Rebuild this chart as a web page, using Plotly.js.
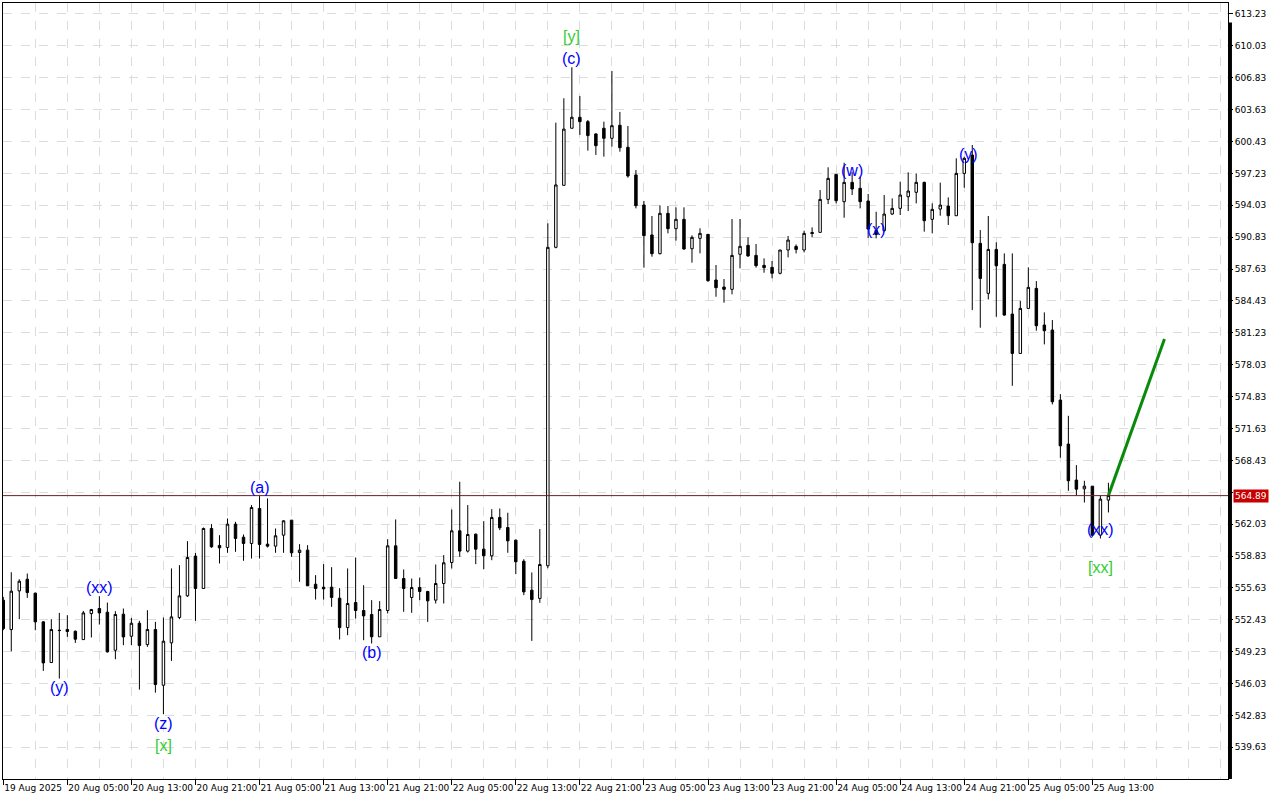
<!DOCTYPE html>
<html>
<head>
<meta charset="utf-8">
<script src="https://cdn.plot.ly/plotly-3.0.1.min.js"></script>
<style>
html,body{margin:0;padding:0;background:#fff;}
#chart{width:1280px;height:800px;}
</style>
</head>
<body>
<div id="chart"></div>
<script>
// ---- data (hourly bars starting 19 Aug 2025 21:00) ----
const firstBar = '2025-08-19 21:00';

const open = [554.39,551.45,555.33,556.50,555.10,552.22,548.14,551.38,551.45,551.28,
550.44,553.05,553.56,553.19,549.37,552.99,550.78,552.08,549.94,551.45,
545.86,550.11,552.66,554.83,558.82,555.57,561.59,559.89,559.69,562.03,
560.72,560.09,563.60,560.02,559.82,560.92,562.43,559.18,559.42,556.00,
555.70,555.70,554.60,551.65,554.16,553.36,552.96,550.72,553.36,559.85,
556.57,554.67,555.67,555.27,554.40,556.07,558.18,561.36,559.32,561.02,
559.52,558.85,562.70,561.69,560.42,558.31,555.40,554.57,557.85,589.81,
596.03,601.76,602.86,602.42,601.19,601.76,600.75,602.06,599.85,597.07,
594.06,591.05,589.17,593.22,591.68,592.62,589.67,590.71,591.11,586.53,
585.82,585.59,589.11,590.01,589.00,588.00,587.80,587.20,589.54,589.90,
589.54,591.30,591.31,594.62,597.13,594.39,596.33,595.73,594.46,591.50,
591.48,593.15,593.72,594.89,595.33,596.33,592.62,593.65,593.95,592.98,
597.23,599.07,590.21,585.19,589.60,588.10,583.11,579.16,583.68,585.69,
582.01,581.51,574.48,570.06,566.45,565.57,565.84,560.92,564.44];

const high = [554.73,557.20,556.50,557.07,555.16,552.29,552.49,553.12,552.89,551.35,
553.32,553.52,554.80,554.16,553.29,553.56,552.62,552.32,553.39,552.22,
552.65,557.58,557.91,560.32,559.15,561.69,562.03,560.92,562.60,562.26,
560.99,563.94,564.84,564.61,561.59,562.43,562.43,560.02,559.92,556.91,
558.01,557.71,555.60,557.58,558.68,555.90,554.40,554.30,560.52,562.50,
557.48,556.57,556.67,555.33,557.98,558.92,563.50,566.28,563.94,561.09,
562.33,563.53,563.60,563.17,560.49,558.51,557.18,561.53,592.22,602.32,
604.77,607.88,605.00,602.59,601.25,602.42,607.51,603.40,601.99,597.57,
594.46,592.95,594.02,593.96,593.82,593.82,591.01,591.72,591.15,588.03,
586.63,592.65,592.65,590.81,590.14,588.70,588.44,589.54,590.95,590.10,
591.48,591.81,595.56,597.84,597.13,598.30,597.40,596.90,595.16,593.38,
595.06,594.72,596.40,597.33,597.23,596.40,594.22,596.30,594.82,598.74,
598.91,600.08,591.54,592.95,590.31,589.20,589.20,584.45,587.80,586.42,
583.28,582.51,575.08,572.90,567.95,566.38,565.84,564.87,566.18];

const low = [551.38,549.27,552.49,554.63,551.38,547.30,548.14,546.53,550.71,550.11,
550.44,550.65,551.95,549.14,548.47,549.88,549.88,545.42,549.71,545.12,
542.95,548.30,552.49,554.73,552.32,555.57,559.65,558.08,559.15,559.25,
558.35,558.58,558.58,559.69,559.15,559.15,558.75,556.24,555.84,554.46,
554.46,553.73,550.45,550.88,552.56,550.38,550.05,550.72,553.06,556.57,
553.23,553.13,554.40,552.22,554.06,554.06,557.58,558.75,559.18,558.01,
557.51,558.41,561.43,559.15,557.01,554.90,550.31,554.13,557.60,589.71,
596.03,601.76,601.09,599.51,599.08,598.91,599.91,599.41,596.80,593.72,
587.77,588.87,589.11,591.21,590.48,589.57,588.27,589.21,586.36,584.85,
584.25,585.09,587.70,588.87,587.77,587.26,586.70,587.10,588.80,589.20,
589.30,590.81,591.31,594.15,594.22,592.78,595.06,593.72,590.77,590.71,
591.40,593.05,593.05,593.45,594.22,591.38,591.21,592.98,592.05,592.98,
595.79,583.51,581.74,584.58,582.84,582.94,575.91,579.16,583.68,581.44,
580.07,574.04,568.69,565.37,564.87,564.20,560.76,560.59,563.20];

const close = [551.55,555.30,556.30,555.16,552.22,548.10,551.45,551.35,551.25,550.48,
553.12,553.46,553.12,549.21,552.96,550.71,552.08,549.84,551.45,545.93,
550.28,552.72,554.83,558.68,555.57,561.59,559.75,559.65,562.03,560.59,
560.09,563.70,559.99,559.82,560.86,562.36,559.15,559.42,555.84,555.57,
555.54,554.67,551.65,554.06,553.36,552.82,550.72,553.46,559.85,556.57,
555.57,555.67,555.27,554.33,556.07,558.15,561.36,559.32,560.99,559.52,
558.85,562.70,561.66,560.35,558.25,555.23,554.46,557.98,589.81,596.07,
601.67,602.86,602.42,601.02,600.01,600.75,602.02,599.81,596.97,593.99,
590.98,589.17,593.22,591.68,592.62,589.64,590.81,591.21,586.46,585.76,
585.59,589.00,589.91,588.94,587.97,587.77,587.20,589.54,590.54,589.60,
591.21,591.20,594.62,596.73,594.49,596.33,595.66,594.39,591.64,591.10,
593.15,593.72,595.06,595.46,596.33,592.48,593.62,594.05,592.98,597.23,
598.74,590.27,586.69,589.60,587.96,583.01,579.16,583.68,585.79,581.94,
581.44,574.31,569.89,566.38,565.54,565.84,560.92,564.54,564.89];

const currentPrice = 564.89;

const tickTimes = ['2025-08-19 21:00','2025-08-20 05:00','2025-08-20 13:00','2025-08-20 21:00',
'2025-08-21 05:00','2025-08-21 13:00','2025-08-21 21:00','2025-08-22 05:00','2025-08-22 13:00',
'2025-08-22 21:00','2025-08-23 05:00','2025-08-23 13:00','2025-08-23 21:00','2025-08-24 05:00',
'2025-08-24 13:00','2025-08-24 21:00','2025-08-25 05:00','2025-08-25 13:00'];
const tickLabels = ['19 Aug 2025','20 Aug 05:00','20 Aug 13:00','20 Aug 21:00','21 Aug 05:00',
'21 Aug 13:00','21 Aug 21:00','22 Aug 05:00','22 Aug 13:00','22 Aug 21:00','23 Aug 05:00',
'23 Aug 13:00','23 Aug 21:00','24 Aug 05:00','24 Aug 13:00','24 Aug 21:00','25 Aug 05:00',
'25 Aug 13:00'];

// price scale ticks (565.23 sits under the current-price box)
const priceTicks  = [539.63,542.83,546.03,549.23,552.43,555.63,558.83,562.03,565.23,568.43,
571.63,574.83,578.03,581.23,584.43,587.63,590.83,594.03,597.23,600.43,603.63,606.83,610.03,613.23];
const priceLabels = ['539.63','542.83','546.03','549.23','552.43','555.63','558.83','562.03','',
'568.43','571.63','574.83','578.03','581.23','584.43','587.63','590.83','594.03','597.23','600.43',
'603.63','606.83','610.03','613.23'];

const blueText  = ['(y)','(xx)','(z)','(a)','(b)','(c)','(w)','(x)','(y)','(xx)'];
const blueTime  = ['2025-08-20 04:00','2025-08-20 09:00','2025-08-20 17:00','2025-08-21 05:00',
'2025-08-21 19:00','2025-08-22 20:00','2025-08-24 07:00','2025-08-24 10:00','2025-08-24 21:30','2025-08-25 14:00'];
const bluePrice = [545.66,555.70,542.04,565.74,549.17,608.81,597.57,591.64,599.17,561.52];

const greenText  = ['[x]','[y]','[xx]'];
const greenTime  = ['2025-08-20 17:00','2025-08-22 20:00','2025-08-25 14:00'];
const greenPrice = [539.83,610.92,557.71];

const forecastTime  = ['2025-08-25 15:00','2025-08-25 22:00'];
const forecastPrice = [564.89,580.60];

// ---- build bar times (one per hour) ----
function fmt(d){
  const p = n => String(n).padStart(2,'0');
  return d.getUTCFullYear()+'-'+p(d.getUTCMonth()+1)+'-'+p(d.getUTCDate())+' '+p(d.getUTCHours())+':'+p(d.getUTCMinutes());
}
const t0 = Date.parse(firstBar.replace(' ','T')+':00Z');
const times = open.map((_,i)=>fmt(new Date(t0 + i*3600000)));

const gridColor = '#dcdcdc';
const axisFont = {family:'DejaVu Sans, sans-serif', size:9, color:'#000'};

const traces = [
  {
    type:'candlestick', x:times, open:open, high:high, low:low, close:close,
    increasing:{line:{color:'#000',width:1}, fillcolor:'#ffffff'},
    decreasing:{line:{color:'#000',width:1}, fillcolor:'#000000'},
    whiskerwidth:0, hoverinfo:'skip', showlegend:false
  },
  {
    type:'scatter', mode:'lines', x:forecastTime, y:forecastPrice,
    line:{color:'#0a8a0a', width:3}, hoverinfo:'skip', showlegend:false
  }
];

const annotations = [];
blueText.forEach((t,i)=>annotations.push({x:blueTime[i], y:bluePrice[i], xref:'x', yref:'y', text:t,
  showarrow:false, xanchor:'center', yanchor:'middle',
  font:{family:'Liberation Sans, Arial, sans-serif', size:16, color:'#0000ff'}}));
greenText.forEach((t,i)=>annotations.push({x:greenTime[i], y:greenPrice[i], xref:'x', yref:'y', text:t,
  showarrow:false, xanchor:'center', yanchor:'middle',
  font:{family:'Liberation Sans, Arial, sans-serif', size:16, color:'#32cd32'}}));
annotations.push({xref:'paper', x:1, xshift:5, yref:'y', y:currentPrice, text:currentPrice.toFixed(2),
  showarrow:false, xanchor:'left', yanchor:'middle', bgcolor:'#c80000', borderpad:1,
  font:{family:'DejaVu Sans, sans-serif', size:9, color:'#ffffff'}});

const layout = {
  width:1280, height:800,
  margin:{l:3, r:52, t:3, b:21},
  paper_bgcolor:'#ffffff', plot_bgcolor:'#ffffff',
  showlegend:false, hovermode:false, boxgap:0.56,
  xaxis:{
    type:'date', range:['2025-08-19 20:58','2025-08-26 05:56'],
    tickmode:'array', tickvals:tickTimes, ticktext:tickLabels, tickangle:0,
    ticks:'outside', ticklen:5, tickcolor:'#000', tickwidth:1,
    ticklabelposition:'outside right', ticklabeloverflow:'allow', tickfont:axisFont,
    showgrid:true, gridcolor:gridColor, griddash:'dash', gridwidth:1,
    minor:{tickmode:'linear', tick0:'2025-08-19 21:00', dtick:4*3600000, showgrid:true,
           gridcolor:gridColor, griddash:'dash', gridwidth:1, ticks:''},
    showline:true, mirror:true, linecolor:'#000', linewidth:1,
    zeroline:false, rangeslider:{visible:false}, fixedrange:true
  },
  yaxis:{
    side:'right', range:[536.45,614.33],
    tickmode:'array', tickvals:priceTicks, ticktext:priceLabels,
    ticks:'outside', ticklen:4, tickcolor:'#000', tickfont:axisFont,
    showgrid:true, gridcolor:gridColor, griddash:'dash', gridwidth:1,
    showline:true, mirror:true, linecolor:'#000', linewidth:1,
    zeroline:false, fixedrange:true
  },
  shapes:[
    {type:'line', xref:'paper', yref:'y', x0:0, x1:1, y0:currentPrice, y1:currentPrice,
     line:{color:'#6e2020', width:1}},
    {type:'line', xref:'paper', yref:'paper', x0:1.002, x1:1.002, y0:0, y1:0.975,
     line:{color:'#000', width:3}}
  ],
  annotations:annotations
};

Plotly.newPlot('chart', traces, layout, {staticPlot:true, displayModeBar:false});
</script>
</body>
</html>
